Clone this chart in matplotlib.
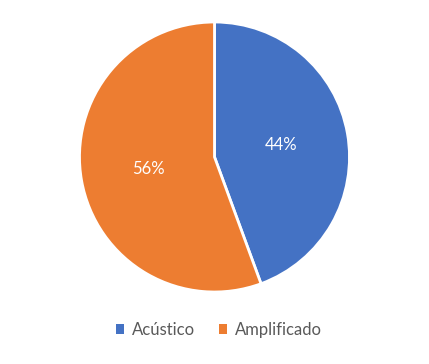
import matplotlib.pyplot as plt
from matplotlib.patches import Patch

# data
labels = ['Acústico', 'Amplificado']
values = [44.4, 55.6]
colors = ['#4472C4', '#ED7D31']

plt.rcParams['font.family'] = ['Lato', 'DejaVu Sans']

fig = plt.figure(figsize=(4.29, 3.64), dpi=100)
# pie centre about (214, 157) px, radius about 135 px
ax = fig.add_axes([(214.5 - 135) / 429, (364 - 157 - 135) / 364, 270 / 429, 270 / 364])

wedges, texts, autotexts = ax.pie(
    values, colors=colors, startangle=90, counterclock=False,
    autopct='%1.0f%%', pctdistance=0.5, radius=1.0,
    wedgeprops=dict(edgecolor='white', linewidth=2),
    textprops=dict(color='white', fontsize=12))
ax.set_xlim(-1.0, 1.0)
ax.set_ylim(-1.0, 1.0)
ax.set_aspect('equal')

handles = [Patch(facecolor=c, edgecolor='none') for c in colors]
fig.legend(handles, labels, loc='center', bbox_to_anchor=(219 / 429, 1 - 330 / 364),
           ncol=2, frameon=False, fontsize=12, labelcolor='#595959',
           handlelength=0.5, handleheight=0.5, handletextpad=0.5, columnspacing=1.4)

fig.savefig('out.png', dpi=100)
